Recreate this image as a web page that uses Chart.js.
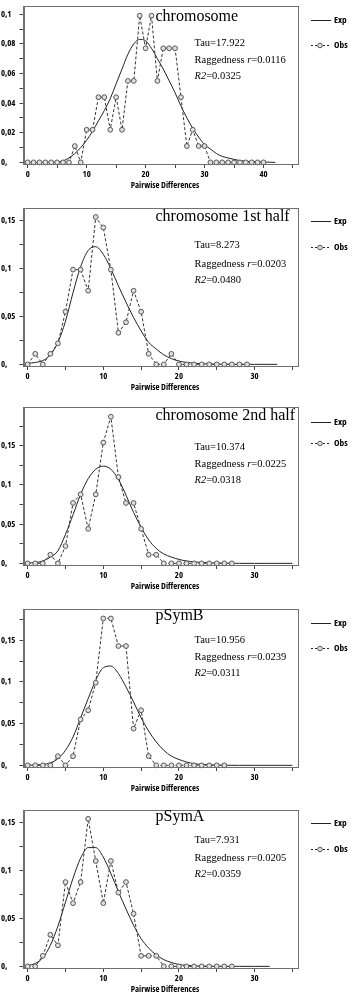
<!DOCTYPE html>
<html><head><meta charset="utf-8">
<script src="https://cdn.jsdelivr.net/npm/chart.js@4.4.1/dist/chart.umd.min.js"></script>
<style>
html,body{margin:0;padding:0;background:#fff;width:353px;height:992px;overflow:hidden;position:relative}
.p{position:absolute;left:0;width:353px;height:200px}
canvas{display:block}
</style></head><body>
<div class="p" style="top:0px"><canvas id="c1" width="353" height="200"></canvas></div>
<div class="p" style="top:202px"><canvas id="c2" width="353" height="200"></canvas></div>
<div class="p" style="top:401px"><canvas id="c3" width="353" height="200"></canvas></div>
<div class="p" style="top:603px"><canvas id="c4" width="353" height="200"></canvas></div>
<div class="p" style="top:804px"><canvas id="c5" width="353" height="200"></canvas></div>
<script>
// ---- data (pairwise differences = array index) ----
const titles = ['chromosome', 'chromosome 1st half', 'chromosome 2nd half', 'pSymB', 'pSymA'];
const tauValues = ['17.922', '8.273', '10.374', '10.956', '7.931'];
const raggedValues = ['0.0116', '0.0203', '0.0225', '0.0239', '0.0205'];
const r2Values = ['0.0325', '0.0480', '0.0318', '0.0311', '0.0359'];
const seriesNames = ['Exp', 'Obs'];
const xAxisTitle = 'Pairwise Differences';

const obsChromosome = [0,0,0,0,0,0,0,0,0.011,0,0.022,0.022,0.044,0.044,0.022,0.044,0.022,0.055,0.055,0.099,0.077,0.099,0.055,0.077,0.077,0.077,0.044,0.011,0.022,0.011,0.011,0,0,0,0,0,0,0,0,0,0];
const expChromosome = [0,0,0,0,0,0.0003,0.001,0.003,0.006,0.01,0.015,0.021,0.028,0.035,0.043,0.053,0.063,0.073,0.08,0.083,0.082,0.077,0.07,0.063,0.055,0.047,0.038,0.03,0.023,0.017,0.012,0.009,0.006,0.004,0.003,0.002,0.0012,0.0008,0.0005,0.0003,0.0002,0.0001,0];

const obsChrom1 = [0,0.011,0,0.011,0.022,0.055,0.099,0.099,0.077,0.154,0.143,0.099,0.033,0.044,0.077,0.055,0.011,0,0,0.011,0,0,0,0,0,0,0,0,0,0];
const expChrom1 = [0.001,0.002,0.004,0.01,0.023,0.045,0.075,0.102,0.119,0.123,0.115,0.1,0.082,0.065,0.049,0.035,0.023,0.016,0.01,0.006,0.0035,0.002,0.0012,0.0007,0.0004,0.0002,0.0001,0,0,0,0,0,0,0];

const obsChrom2 = [0,0,0,0.011,0,0.022,0.077,0.088,0.044,0.088,0.154,0.187,0.11,0.077,0.077,0.044,0.011,0.011,0,0,0,0,0,0,0,0,0,0];
const expChrom2 = [0.0005,0.001,0.003,0.008,0.016,0.037,0.062,0.088,0.108,0.12,0.124,0.12,0.107,0.087,0.065,0.046,0.03,0.019,0.012,0.008,0.005,0.003,0.002,0.001,0.0006,0.0003,0.0002,0.0001,0,0,0,0,0,0,0,0];

const obsPSymB = [0,0,0,0,0.011,0,0.011,0.055,0.066,0.099,0.176,0.176,0.143,0.143,0.044,0.066,0.011,0,0,0,0,0,0,0,0,0,0];
const expPSymB = [0,0.0005,0.001,0.003,0.008,0.018,0.034,0.057,0.08,0.102,0.117,0.119,0.11,0.094,0.076,0.057,0.041,0.028,0.018,0.011,0.007,0.004,0.002,0.001,0.0006,0.0003,0.0001,0,0,0,0,0,0,0,0,0];

const obsPSymA = [0,0,0.011,0.033,0.022,0.088,0.066,0.088,0.154,0.11,0.066,0.11,0.077,0.088,0.055,0.011,0.011,0.011,0,0,0,0,0,0,0,0,0,0];
const expPSymA = [0.001,0.003,0.009,0.022,0.042,0.067,0.092,0.113,0.124,0.124,0.114,0.097,0.078,0.06,0.043,0.029,0.019,0.012,0.007,0.004,0.002,0.001,0.0005,0.0002,0.0001,0,0,0,0,0,0,0,0];

const xTicksWide = [0,5,10,15,20,25,30,35,40,45];
const xLabelsWide = ['0','','10','','20','','30','','40',''];
const xTicks = [0,5,10,15,20,25,30,35];
const xLabels = ['0','','10','','20','','30',''];
const yTicks1 = [0,0.01,0.02,0.03,0.04,0.05,0.06,0.07,0.08,0.09,0.1];
const yLabels1 = ['0,','','0,02','','0,04','','0,06','','0,08','','0,1'];
const yTicksA = [0,0.025,0.05,0.075,0.1,0.125,0.15];
const yLabelsA = ['0,','','0,05','','0,1','','0,15'];
const yTicksB = [0,0.025,0.05,0.075,0.1,0.125,0.15,0.175];
const yLabelsB = ['0,','','0,05','','0,1','','0,15',''];

// ---- layout / styling ----
const AXFONT = '"Open Sans",Roboto,sans-serif';
const AXWEIGHT = 'bold condensed';
const AXSIZE = 8.7;
const SERIF = '"Liberation Serif","Times New Roman",serif';

const panels = [
  {id:'c1', obs:obsChromosome, exp:expChromosome, xr:[-0.71,45.8], yr:[-0.0011,0.1054], xt:xTicksWide, xl:xLabelsWide, yt:yTicks1, yl:yLabels1,
   ty:20.5, s:[45.7,63.3,79], lg:[20,45]},
  {id:'c2', obs:obsChrom1, exp:expChrom1, xr:[-0.55,35.7], yr:[-0.0017,0.1632], xt:xTicks, xl:xLabels, yt:yTicksA, yl:yLabelsA,
   ty:18.5, s:[45.7,64.7,81], lg:[19,45]},
  {id:'c3', obs:obsChrom2, exp:expChrom2, xr:[-0.55,35.7], yr:[-0.0021,0.1991], xt:xTicks, xl:xLabels, yt:yTicksB, yl:yLabelsB,
   ty:19, s:[49,65.7,82.3], lg:[20.5,41.5]},
  {id:'c4', obs:obsPSymB, exp:expPSymB, xr:[-0.55,35.7], yr:[-0.002,0.1871], xt:xTicks, xl:xLabels, yt:yTicksB, yl:yLabelsB,
   ty:17, s:[39.7,57,73], lg:[19.7,45.3]},
  {id:'c5', obs:obsPSymA, exp:expPSymA, xr:[-0.55,35.7], yr:[-0.0017,0.163], xt:xTicks, xl:xLabels, yt:yTicksA, yl:yLabelsA,
   ty:16.7, s:[39,56.7,72.7], lg:[19.3,45]}
];

function rich(ctx, parts, x, y) {
  for (const [t, it] of parts) {
    ctx.font = (it ? 'italic ' : '') + '10.5px ' + SERIF;
    ctx.fillText(t, x, y);
    x += ctx.measureText(t).width;
  }
}

const deco = {
  id: 'deco',
  afterDraw(chart, args, o) {
    const {ctx, chartArea: a} = chart;
    ctx.save();
    ctx.strokeStyle = '#707070'; ctx.lineWidth = 1;
    ctx.strokeRect(Math.round(a.left) + 0.5, Math.round(a.top) + 0.5, Math.round(a.right - a.left), Math.round(a.bottom - a.top));
    ctx.fillStyle = '#000';
    ctx.textBaseline = 'alphabetic'; ctx.textAlign = 'left';
    ctx.font = '16px ' + SERIF;
    ctx.fillText(o.title, 155.5, o.ty);
    rich(ctx, [['Tau=' + o.tau, false]], 194.5, o.s[0]);
    rich(ctx, [['Raggedness ', false], ['r', true], ['=' + o.rag, false]], 194.5, o.s[1]);
    rich(ctx, [['R2', true], ['=' + o.r2, false]], 194.5, o.s[2]);
    // x-axis title
    ctx.font = AXWEIGHT + ' ' + AXSIZE + 'px ' + AXFONT;
    ctx.textAlign = 'center'; ctx.textBaseline = 'middle';
    ctx.fillText(o.xTitle, 165, a.bottom + 21.7);
    // legend
    ctx.textAlign = 'left';
    ctx.strokeStyle = '#222'; ctx.lineWidth = 1;
    ctx.beginPath(); ctx.moveTo(311, Math.round(o.lg[0]) + 0.5); ctx.lineTo(331, Math.round(o.lg[0]) + 0.5); ctx.stroke();
    ctx.setLineDash([2, 2]);
    ctx.beginPath(); ctx.moveTo(311, Math.round(o.lg[1]) + 0.5); ctx.lineTo(331, Math.round(o.lg[1]) + 0.5); ctx.stroke();
    ctx.setLineDash([]);
    ctx.fillStyle = '#e0e0e0'; ctx.strokeStyle = '#555';
    ctx.beginPath(); ctx.arc(320, Math.round(o.lg[1]) + 0.5, 2.3, 0, Math.PI * 2); ctx.fill(); ctx.stroke();
    ctx.fillStyle = '#000';
    ctx.font = AXWEIGHT + ' 9.3px ' + AXFONT;
    ctx.fillText(o.names[0], 334, o.lg[0] + 0.5);
    ctx.fillText(o.names[1], 334, o.lg[1] + 0.5);
    ctx.restore();
  }
};

panels.forEach((p, i) => {
  const pts = arr => arr.map((v, k) => ({x: k, y: v}));
  const axFont = {family: AXFONT, size: AXSIZE, weight: AXWEIGHT};
  new Chart(document.getElementById(p.id), {
    type: 'line',
    data: {
      datasets: [
        {label: seriesNames[0], data: pts(p.exp), borderColor: '#222', borderWidth: 1, pointRadius: 0,
         cubicInterpolationMode: 'monotone', fill: false, order: 2},
        {label: seriesNames[1], data: pts(p.obs), borderColor: '#333', borderWidth: 1, borderDash: [3, 2],
         tension: 0, pointRadius: 2.4, pointBackgroundColor: '#e0e0e0', pointBorderColor: '#555', pointBorderWidth: 1,
         fill: false, clip: false, order: 1}
      ]
    },
    options: {
      responsive: false, animation: false, devicePixelRatio: 1,
      layout: {padding: {left: 1, right: 55.3, top: 1, bottom: 6}},
      plugins: {
        legend: {display: false}, tooltip: {enabled: false},
        deco: {title: titles[i], tau: tauValues[i], rag: raggedValues[i], r2: r2Values[i], ty: p.ty, s: p.s, lg: p.lg,
               names: seriesNames, xTitle: xAxisTitle}
      },
      scales: {
        x: {
          type: 'linear', min: p.xr[0], max: p.xr[1],
          afterBuildTicks: ax => { ax.ticks = p.xt.map(v => ({value: v})); },
          afterFit: ax => { ax.height = 30; },
          ticks: {autoSkip: false, maxRotation: 0, padding: 1, color: '#000', font: axFont,
                  callback: (v, k) => p.xl[k]},
          grid: {drawOnChartArea: false, drawTicks: true, tickLength: 4, tickColor: '#444'},
          border: {display: true, color: '#707070'}
        },
        y: {
          type: 'linear', min: p.yr[0], max: p.yr[1],
          afterBuildTicks: ax => { ax.ticks = p.yt.map(v => ({value: v})); },
          afterFit: ax => { ax.width = 22.5; },
          ticks: {autoSkip: false, padding: 1, crossAlign: 'far', color: '#000', font: axFont,
                  callback: (v, k) => p.yl[k]},
          grid: {drawOnChartArea: false, drawTicks: true, tickLength: 4, tickColor: '#444'},
          border: {display: true, color: '#707070'}
        }
      }
    },
    plugins: [deco]
  });
});
</script>
</body></html>
